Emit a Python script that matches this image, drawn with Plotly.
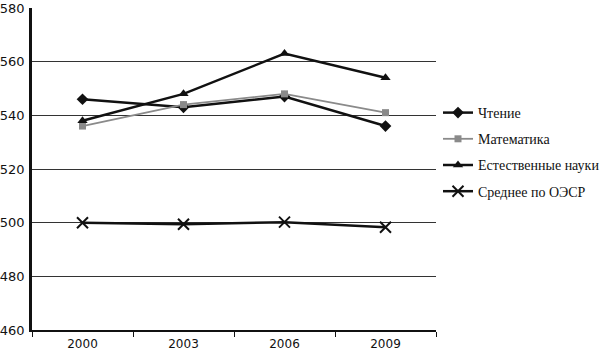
import plotly.graph_objects as go

years = ["2000", "2003", "2006", "2009"]
reading = [546, 543, 547, 536]
math = [536, 544, 548, 541]
science = [538, 548, 563, 554]
oecd = [500, 499.4, 500.2, 498.3]
y_ticks = [460, 480, 500, 520, 540, 560, 580]

fig = go.Figure()
fig.add_trace(go.Scatter(x=years, y=reading, name="Чтение", mode="lines+markers", legendgroup="a",
                         line=dict(color="#111111", width=2.5),
                         marker=dict(symbol="diamond", size=9, color="#111111")))
fig.add_trace(go.Scatter(x=years, y=math, name="Математика", mode="lines+markers", legendgroup="b",
                         line=dict(color="#8a8a8a", width=1.8),
                         marker=dict(symbol="square", size=7, color="#8a8a8a")))
fig.add_trace(go.Scatter(x=years, y=science, name="Естественные науки", mode="lines+markers", legendgroup="c",
                         line=dict(color="#111111", width=2.5),
                         marker=dict(symbol="triangle-up", size=9, color="#111111")))
fig.add_trace(go.Scatter(x=years, y=oecd, name="Среднее по ОЭСР", mode="lines+markers", legendgroup="d",
                         line=dict(color="#111111", width=2.5),
                         marker=dict(symbol="x-thin-open", size=11, color="#111111",
                                     line=dict(width=2, color="#111111"))))

fig.update_layout(
    width=600, height=353,
    margin=dict(l=32, r=164, t=8, b=23),
    paper_bgcolor="white", plot_bgcolor="white",
    showlegend=True,
    legend=dict(xref="container", yref="container", x=438/600, y=(353-97)/353,
                xanchor="left", yanchor="top", traceorder="grouped",
                font=dict(family="Liberation Serif", size=14, color="#111111"),
                tracegroupgap=5, itemwidth=30, bgcolor="rgba(0,0,0,0)"),
    xaxis=dict(type="category", tickson="boundaries", ticks="outside", ticklen=5,
               tickcolor="#111111", showline=True, linecolor="#111111", linewidth=2,
               showgrid=False, tickfont=dict(family="DejaVu Sans", size=12, color="#111111"),
               ticklabelstandoff=2, automargin=False, range=[-0.5, 3.5]),
    yaxis=dict(range=[460, 580], tickvals=y_ticks, showgrid=True, gridcolor="#333333",
               gridwidth=1, showline=True, linecolor="#111111", linewidth=2.5,
               ticks="", tickfont=dict(family="DejaVu Sans", size=13, color="#111111"),
               ticklabelstandoff=2, automargin=False, zeroline=False),
)
fig.write_html("out.html")
